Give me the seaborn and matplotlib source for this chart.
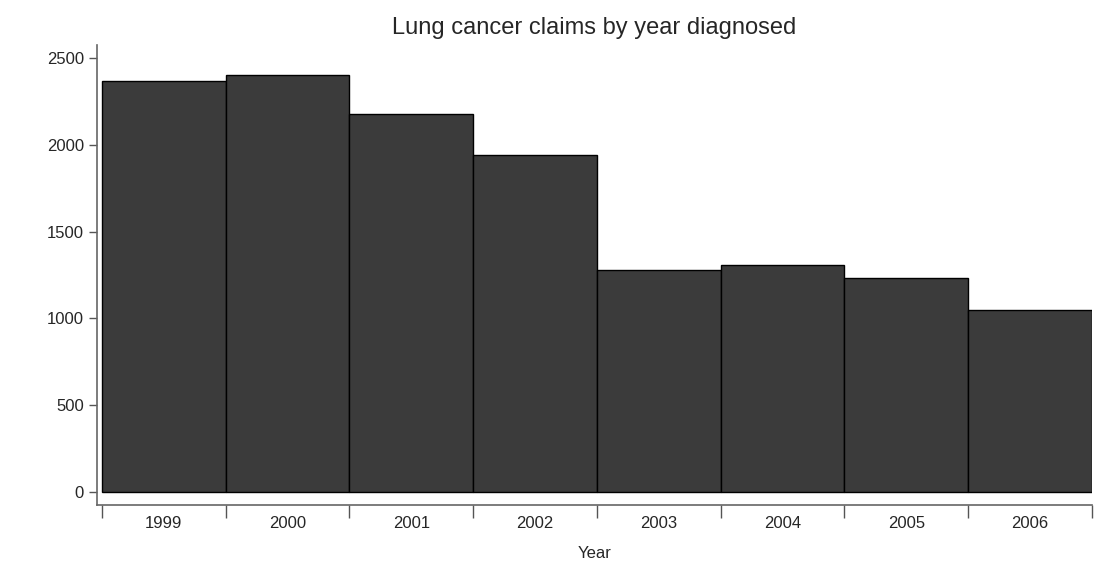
#importar bibliotecas
import pandas as pd
import matplotlib
matplotlib.use('Agg')
import matplotlib.pyplot as plt
import seaborn as sns

#dados do grafico
anos = ['1999', '2000', '2001', '2002', '2003', '2004', '2005', '2006']
casos = [2365, 2400, 2180, 1940, 1278, 1306, 1233, 1048]
yticks = [0, 500, 1000, 1500, 2000, 2500]

df = pd.DataFrame({'ano': anos, 'casos': casos})

sns.set_style('white')
plt.rcParams['font.family'] = ['Liberation Sans', 'DejaVu Sans']

fig = plt.figure(figsize=(10.94, 5.67), dpi=100)
ax = fig.add_axes([97/1094, 1 - 505/567, (1092 - 97)/1094, (505 - 45)/567])

sns.barplot(data=df, x='ano', y='casos', color='#3b3b3b', width=1.0,
            edgecolor='black', linewidth=1.0, saturation=1, ax=ax)

#eixos
ax.set_xlim(-0.54, 7.5)
ax.set_ylim(-75, 2575)
ax.set_yticks(yticks)
ax.set_yticklabels([str(v) for v in yticks], fontsize=12)
ax.set_xticks(range(len(anos)))
ax.set_xticklabels(anos, fontsize=12)
ax.tick_params(axis='x', which='major', length=0, pad=8, bottom=True)
ax.set_xticks([i - 0.5 for i in range(len(anos) + 1)], minor=True)
ax.tick_params(axis='x', which='minor', length=9, width=1, color='#555555',
               direction='out', bottom=True)
ax.tick_params(axis='y', length=6, width=1, color='#555555', left=True)

for lado in ['top', 'right']:
    ax.spines[lado].set_visible(False)
for lado in ['left', 'bottom']:
    ax.spines[lado].set_color('#666666')
    ax.spines[lado].set_linewidth(1.2)

ax.set_xlabel('Year', fontsize=12)
ax.xaxis.set_label_coords(0.5, -0.09)
ax.set_ylabel('')
ax.set_title('Lung cancer claims by year diagnosed', fontsize=17, pad=8)

fig.savefig('out.png', dpi=100)
